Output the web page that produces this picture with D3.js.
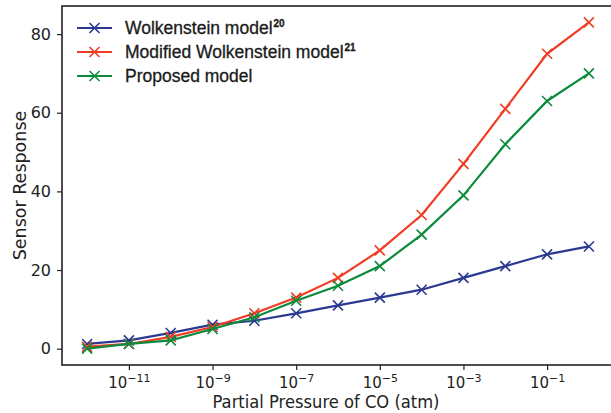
<!DOCTYPE html>
<html>
<head>
<meta charset="utf-8">
<script src="https://cdn.jsdelivr.net/npm/d3@7"></script>
<style>
    body { margin: 0; background: #fff; }
    svg { display: block; }
</style>
</head>
<body>
<div id="chart"></div>
<script>
// data
var pressures = [1e-12, 1e-11, 1e-10, 1e-9, 1e-8, 1e-7, 1e-6, 1e-5, 1e-4, 1e-3, 1e-2, 1e-1, 1e0];
var wolkenstein = [1.2, 2.1, 4, 6.1, 7.1, 9, 11, 13, 15, 18, 21, 24, 26];
var modified = [0.5, 1.2, 3, 5.5, 9, 13, 18, 25, 34, 47, 61, 75, 83];
var proposed = [0, 1.2, 2.1, 5, 8, 12.2, 16, 21, 29, 39, 52, 63, 70];
var xTickExps = [-11, -9, -7, -5, -3, -1];
var yTicks = [0, 20, 40, 60, 80];

var seriesNames = ["Wolkenstein model", "Modified Wolkenstein model", "Proposed model"];
var seriesSups = ["20", "21", ""];
var seriesColors = ["#2b3990", "#f03c24", "#0d8b3c"];
var seriesValues = [wolkenstein, modified, proposed];

var W = 611, H = 413;
var margin = { top: 6, right: -3, bottom: 48, left: 62 },
    width = W - margin.left - margin.right,
    height = H - margin.top - margin.bottom;

var svg = d3.select("#chart")
    .append("svg")
    .attr("width", W)
    .attr("height", H)
    .append("g")
    .attr("transform", "translate(" + margin.left + "," + margin.top + ")");

// scales (matplotlib style 5% margins)
var x = d3.scaleLog()
    .domain([Math.pow(10, -12.6), Math.pow(10, 0.6)])
    .range([0, width]);
var y = d3.scaleLinear()
    .domain([-4.15, 87.15])
    .range([height, 0]);

var tickFont = "DejaVu Sans, sans-serif";

// X axis
var xAxis = svg.append("g")
    .attr("transform", "translate(0," + height + ")")
    .call(d3.axisBottom(x)
        .tickValues(xTickExps.map(function (e) { return Math.pow(10, e); }))
        .tickSize(5)
        .tickFormat(""));
xAxis.select(".domain").remove();
xAxis.selectAll(".tick line").attr("stroke", "#222").attr("stroke-width", 1.2);
xAxis.selectAll(".tick").each(function (d, i) {
    var t = d3.select(this).append("text")
        .attr("y", 23)
        .attr("text-anchor", "middle")
        .attr("fill", "#222")
        .style("font-family", tickFont)
        .style("font-size", "15px");
    t.append("tspan").text("10");
    t.append("tspan")
        .attr("dy", -6)
        .style("font-size", "11px")
        .text("\u2212" + Math.abs(xTickExps[i]));
});

// Y axis
var yAxis = svg.append("g")
    .call(d3.axisLeft(y).tickValues(yTicks).tickSize(5).tickPadding(6));
yAxis.select(".domain").remove();
yAxis.selectAll(".tick line").attr("stroke", "#222").attr("stroke-width", 1.2);
yAxis.selectAll(".tick text")
    .attr("fill", "#222")
    .style("font-family", tickFont)
    .style("font-size", "16px");

// frame
svg.append("rect")
    .attr("x", 0)
    .attr("y", 0)
    .attr("width", width)
    .attr("height", height)
    .attr("fill", "none")
    .attr("stroke", "#222")
    .attr("stroke-width", 1.6);

// axis labels
svg.append("text")
    .attr("x", 264)
    .attr("y", height + 43)
    .attr("text-anchor", "middle")
    .attr("fill", "#222")
    .style("font-family", tickFont)
    .style("font-size", "17px")
    .attr("textLength", 227)
    .attr("lengthAdjust", "spacingAndGlyphs")
    .text("Partial Pressure of CO (atm)");

svg.append("text")
    .attr("transform", "rotate(-90)")
    .attr("x", -(height / 2))
    .attr("y", -36)
    .attr("text-anchor", "middle")
    .attr("fill", "#222")
    .style("font-family", tickFont)
    .style("font-size", "17.5px")
    .text("Sensor Response");

// lines + x markers
var line = d3.line()
    .x(function (d, i) { return x(pressures[i]); })
    .y(function (d) { return y(d); });

function drawX(g, cx, cy, r, color) {
    g.append("path")
        .attr("d", "M" + (cx - r) + "," + (cy - r) + "L" + (cx + r) + "," + (cy + r) +
            "M" + (cx - r) + "," + (cy + r) + "L" + (cx + r) + "," + (cy - r))
        .attr("stroke", color)
        .attr("stroke-width", 1.6)
        .attr("fill", "none");
}

var plot = svg.append("g");
seriesValues.forEach(function (vals, s) {
    var g = plot.append("g");
    g.append("path")
        .datum(vals)
        .attr("d", line)
        .attr("fill", "none")
        .attr("stroke", seriesColors[s])
        .attr("stroke-width", 2.2);
    vals.forEach(function (v, i) {
        drawX(g, x(pressures[i]), y(v), 5, seriesColors[s]);
    });
});

// legend
var legend = svg.append("g").attr("transform", "translate(15,22)");
seriesNames.forEach(function (name, i) {
    var row = legend.append("g").attr("transform", "translate(0," + (i * 24) + ")");
    row.append("line")
        .attr("x1", 0).attr("x2", 35)
        .attr("y1", 0).attr("y2", 0)
        .attr("stroke", seriesColors[i])
        .attr("stroke-width", 2.2);
    drawX(row, 17.5, 0, 5, seriesColors[i]);
    var t = row.append("text")
        .attr("x", 48)
        .attr("y", 6)
        .attr("fill", "#1a1a1a")
        .style("font-family", "Liberation Sans, Arial, sans-serif")
        .style("font-size", "17.5px")
        .style("stroke", "#1a1a1a")
        .style("stroke-width", 0.3)
        .text(name);
    if (seriesSups[i]) {
        t.append("tspan")
            .attr("dy", -7)
            .attr("dx", 1)
            .style("font-size", "10px")
            .style("font-weight", "bold")
            .text(seriesSups[i]);
    }
});
</script>
</body>
</html>
